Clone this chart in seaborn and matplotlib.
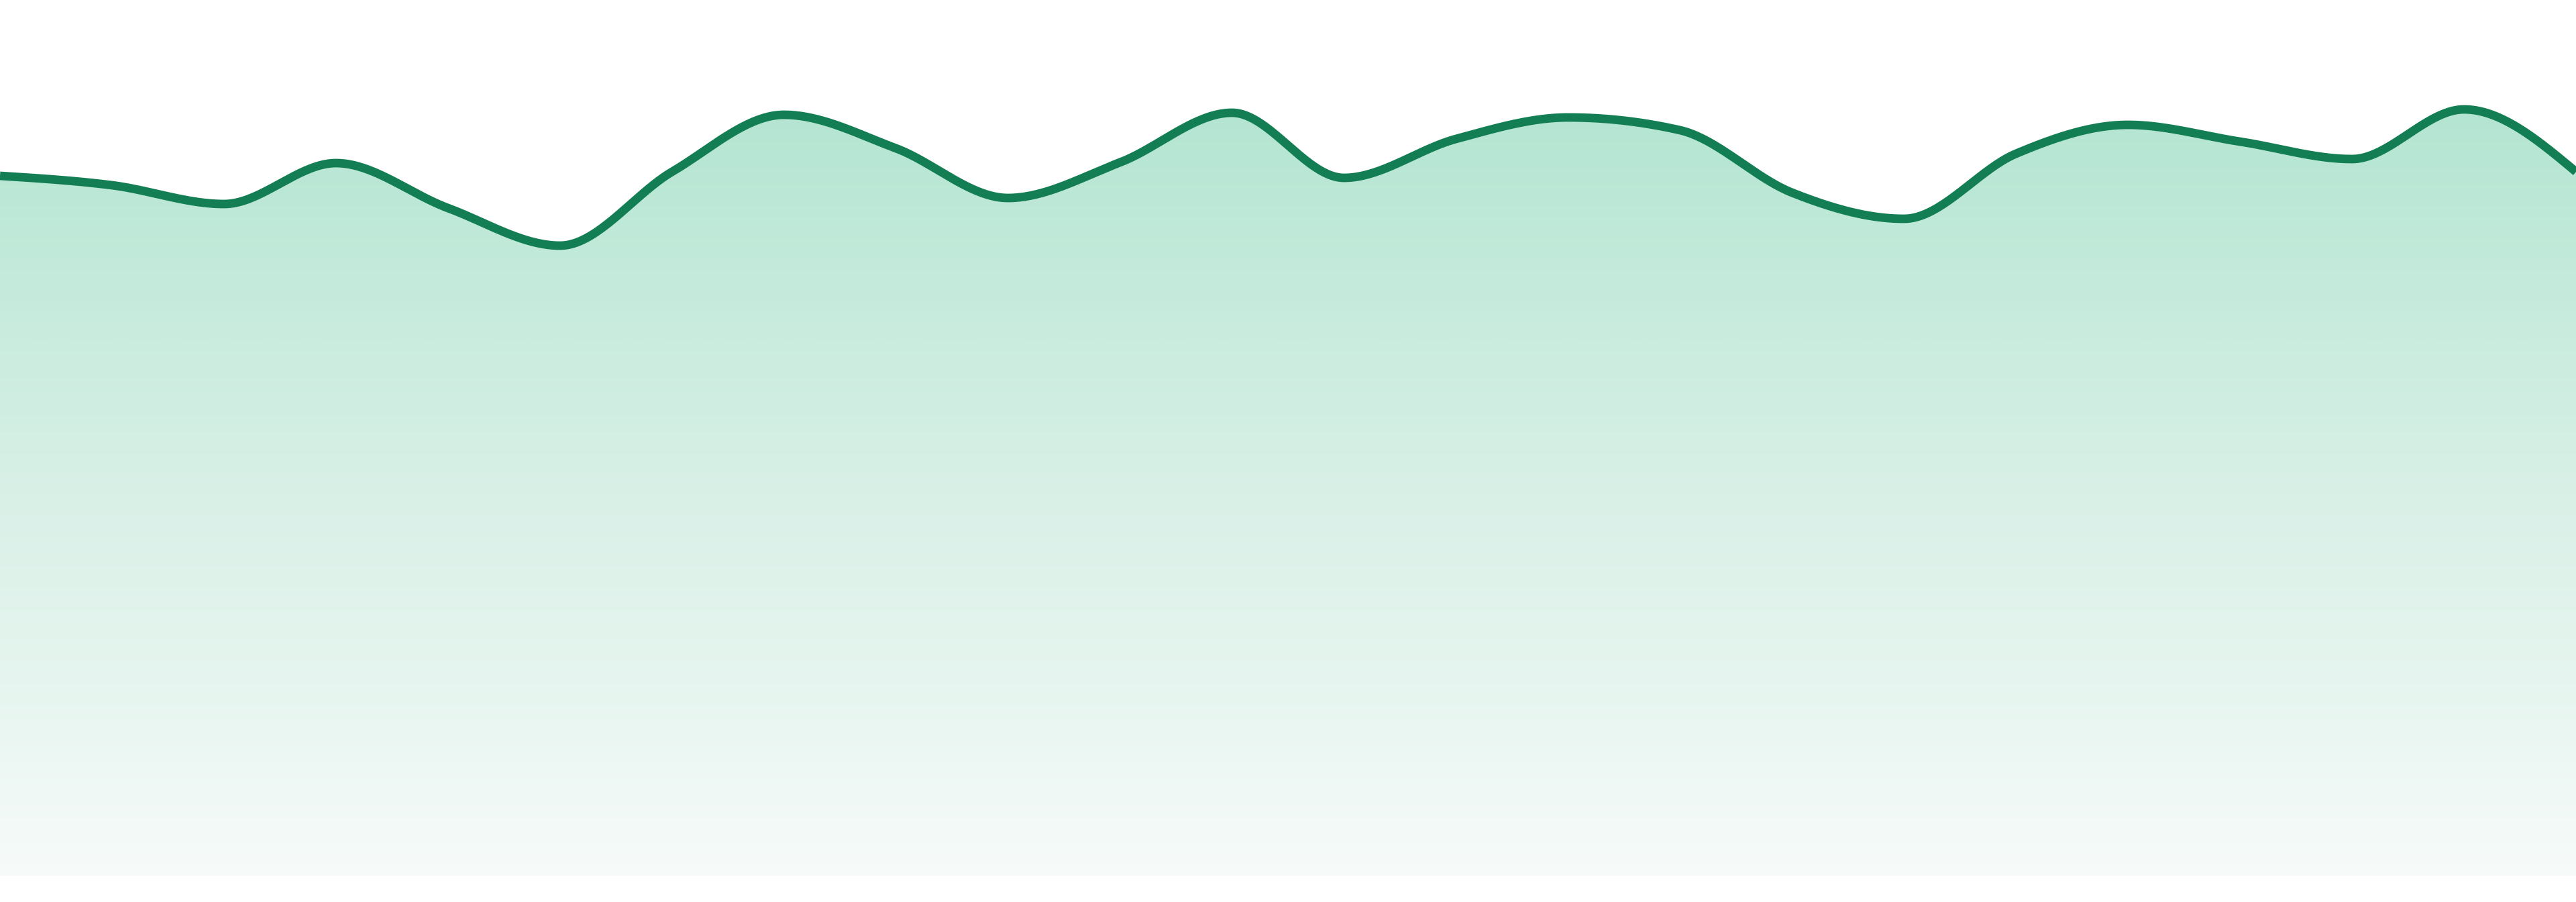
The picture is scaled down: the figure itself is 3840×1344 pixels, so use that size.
import numpy as np
import pandas as pd
import matplotlib
matplotlib.use("Agg")
import matplotlib.pyplot as plt
from matplotlib.colors import LinearSegmentedColormap
import seaborn as sns

# ---- data ----
points = list(range(24))
values = [104.3, 102.9, 100.1, 106.2, 99.5, 93.9, 104.9, 113.4, 108.4, 101.0,
          106.3, 113.7, 104.0, 109.8, 113.0, 111.1, 101.8, 97.9, 107.6, 111.9,
          109.4, 106.8, 114.2, 104.9]

LINE_COLOR = "#137e53"
GRADIENT_COLORS = ["#f7fbfa", "#e6f5ef", "#d9f0e7", "#c6ebdc", "#b4e5d2"]


def monotone_x(x, y, n=40):
    x = np.asarray(x, float)
    y = np.asarray(y, float)
    h = np.diff(x)
    s = np.diff(y) / h
    m = np.zeros_like(y)
    for i in range(1, len(y) - 1):
        s0, s1 = s[i - 1], s[i]
        h0, h1 = h[i - 1], h[i]
        p = (s0 * h1 + s1 * h0) / (h0 + h1)
        m[i] = (np.sign(s0) + np.sign(s1)) * min(abs(s0), abs(s1), 0.5 * abs(p))
    m[0] = (3 * s[0] - m[1]) / 2
    m[-1] = (3 * s[-1] - m[-2]) / 2
    xs, ys = [], []
    for i in range(len(x) - 1):
        t = np.linspace(0, 1, n, endpoint=False)
        h00 = 2 * t**3 - 3 * t**2 + 1
        h10 = t**3 - 2 * t**2 + t
        h01 = -2 * t**3 + 3 * t**2
        h11 = t**3 - t**2
        xs.append(x[i] + t * h[i])
        ys.append(h00 * y[i] + h10 * h[i] * m[i] + h01 * y[i + 1] + h11 * h[i] * m[i + 1])
    xs.append([x[-1]])
    ys.append([y[-1]])
    return np.concatenate(xs), np.concatenate(ys)


sns.set_theme(style="white")
fig = plt.figure(figsize=(38.4, 13.44), dpi=100)
ax = fig.add_axes([0, 0, 1, 1])

xs, ys = monotone_x(points, values)
df = pd.DataFrame({"x": xs, "y": ys})

ymin, ymax = -3.9, 130.5

# gradient fill clipped to the area under the curve
poly = ax.fill_between(df["x"], df["y"], 0, color="none", linewidth=0)
top = max(values)
cmap = LinearSegmentedColormap.from_list("g", GRADIENT_COLORS)
grad = np.linspace(0, 1, 512).reshape(-1, 1)
im = ax.imshow(grad, cmap=cmap, aspect="auto", origin="lower",
               extent=[points[0], points[-1], 0, top], zorder=1,
               interpolation="bicubic")
im.set_clip_path(poly.get_paths()[0], transform=ax.transData)

sns.lineplot(data=df, x="x", y="y", ax=ax, color=LINE_COLOR, linewidth=9.2,
             sort=False, zorder=3, solid_capstyle="butt")

ax.set_xlim(points[0], points[-1])
ax.set_ylim(ymin, ymax)
ax.set_axis_off()
fig.savefig("out.png", dpi=100, facecolor="white")
